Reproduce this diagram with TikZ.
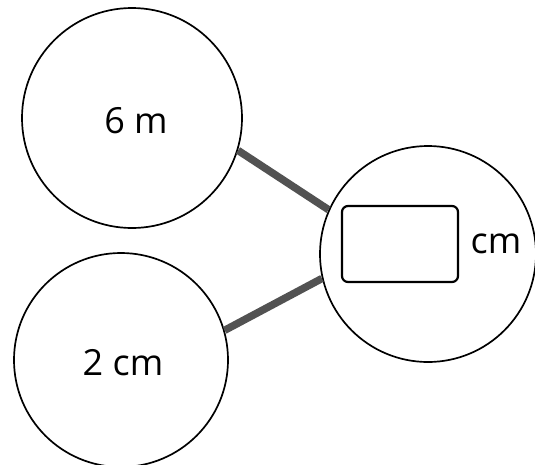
\documentclass[tikz,border=0pt]{standalone}
\usepackage{fontspec}
\setmainfont{Open Sans}
\usepackage{tikz}
\usetikzlibrary{positioning}

\begin{document}
\begin{tikzpicture}[x=1pt, y=-1pt, font=\fontsize{36}{42}\selectfont,
  bubble/.style = {draw, circle, line width=1.7pt, inner sep=0pt},
  link/.style = {draw=black!68, line width=7.5pt}]
\useasboundingbox (0,0) rectangle (535,464);
\node[bubble, minimum size=220pt](b1) at (132,118){};
\node[bubble, minimum size=214pt](b2) at (121,360){};
\node[bubble, minimum size=216pt](b3) at (428,254){};
\node at (136,121){6 m};
\node at (123,363){2 cm};
\node[draw, line width=2.2pt, rounded corners=6pt, minimum width=116pt, minimum height=76pt](box) at (400,244){};
\node[right=8pt of box](unit){cm};
\draw[link] (b1.-17) -- (b3.156);
\draw[link] (b2.16) -- (b3.-167);
\end{tikzpicture}
\end{document}
